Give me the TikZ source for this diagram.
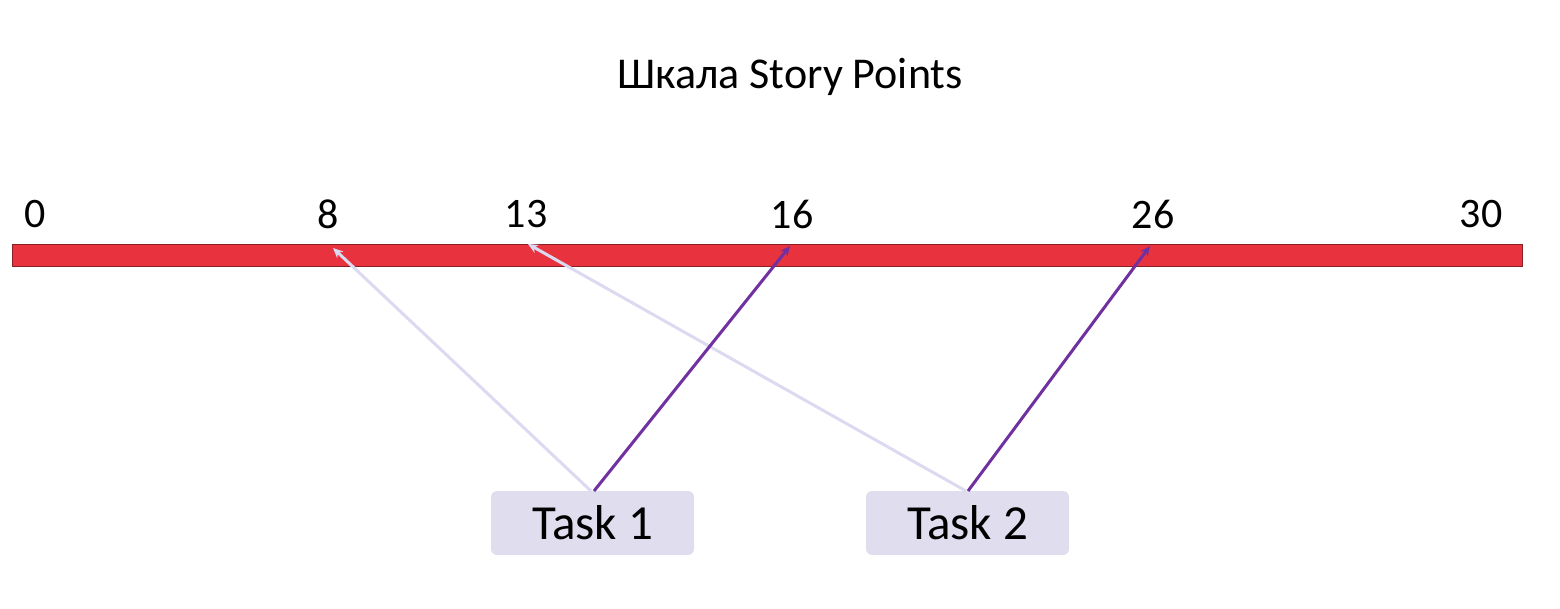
\documentclass[tikz,border=0pt]{standalone}
\usepackage{fontspec}
\setmainfont{Carlito}
\usetikzlibrary{arrows.meta}
\definecolor{barred}{HTML}{E8333F}
\definecolor{boxfill}{HTML}{E0DEEE}
\definecolor{lightarr}{HTML}{DCDAF0}
\definecolor{purp}{HTML}{7030A0}
\tikzset{
  lbl/.style={font=\fontsize{42}{46}\selectfont, anchor=center, inner sep=0},
  taskbox/.style={fill=boxfill, rounded corners=6pt, minimum width=203pt, minimum height=64pt, font=\fontsize{49}{52}\selectfont, inner sep=0},
  arr/.style={line width=3pt, -{Stealth[length=10pt,width=9pt]}},
  lightarrow/.style={arr, draw=lightarr},
  darkarrow/.style={arr, draw=purp}
}
\begin{document}
\begin{tikzpicture}[x=1pt,y=-1pt]
\useasboundingbox (0,0) rectangle (1560,609);
\node[font=\fontsize{44}{48}\selectfont] (title) at (790,77) {Шкала Story Points};
\node[draw=barred!60!black, line width=0.6pt, fill=barred, minimum width=1510pt, minimum height=22pt, inner sep=0] (bar) at (767,255) {};
\node[lbl] (l0) at (35,214) {0};
\node[lbl] (l8) at (328,214) {8};
\node[lbl] (l13) at (526,214) {13};
\node[lbl] (l16) at (792,214) {16};
\node[lbl] (l26) at (1153,214) {26};
\node[lbl] (l30) at (1481,214) {30};
\node[taskbox] (t1) at (592.5,523) {Task 1};
\node[taskbox] (t2) at (967.5,523) {Task 2};
\coordinate (p8) at (333,248);
\coordinate (p13) at (528,244);
\coordinate (p16) at (790,246);
\coordinate (p26) at (1150,246);
\coordinate (s1a) at (591,491);
\coordinate (s1b) at (594,491);
\coordinate (s2a) at (966,491);
\coordinate (s2b) at (968,491);
\draw[lightarrow] (s1a) -- (p8);
\draw[lightarrow] (s2a) -- (p13);
\draw[darkarrow] (s1b) -- (p16);
\draw[darkarrow] (s2b) -- (p26);
\end{tikzpicture}
\end{document}
